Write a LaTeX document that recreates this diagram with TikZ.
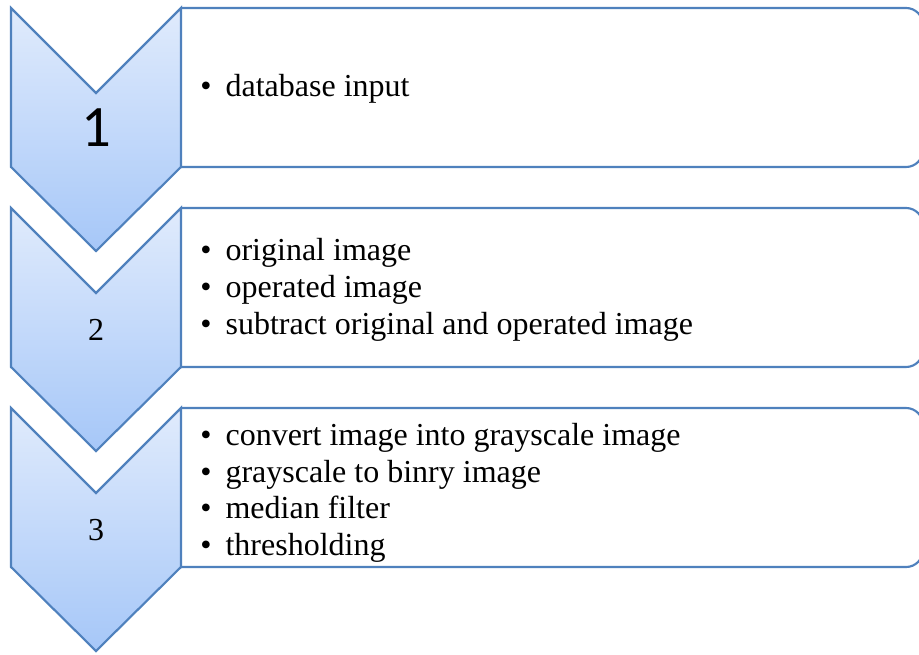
\documentclass[tikz,border=0pt]{standalone}
\usepackage{fontspec}
\setmainfont{Liberation Serif}
\newfontfamily\timesf{Liberation Serif}
\newfontfamily\calibri{Carlito}
\usepackage{xcolor}
\definecolor{stepblue}{RGB}{79,129,189}
\definecolor{steptop}{RGB}{224,235,252}
\definecolor{stepbot}{RGB}{166,199,248}
\usepackage{tikz}
\usetikzlibrary{positioning}
\newcommand{\itm}[1]{\makebox[19pt][l]{\textbullet}#1}

\begin{document}
\begin{tikzpicture}[
  x=0.75pt, y=0.75pt,
  chevron/.style={draw=stepblue, line width=1.6pt, line join=miter, top color=steptop, bottom color=stepbot},
  panel/.style={draw=stepblue, line width=1.6pt, fill=white},
  numtxt/.style={font=\timesf\fontsize{24}{24}\selectfont},
  items/.style={anchor=west, inner sep=0pt, align=left, font=\timesf\fontsize{24}{27.5}\selectfont}]

  \useasboundingbox (0,0) rectangle (919,-655);

  % --- step 1 ---
  \draw[panel] (181,-8) -- (906,-8) arc[start angle=90, end angle=0, radius=12.75pt]
    -- (923,-150) arc[start angle=0, end angle=-90, radius=12.75pt] -- (181,-167);
  \draw[chevron] (11,-8) -- (96,-93) -- (181,-8) -- (181,-167) -- (96,-251) -- (11,-167) -- cycle;
  \node[font=\calibri\fontsize{44}{44}\selectfont] (n1) at (96,-128) {1};
  \node[items] (t1) at (200,-88.5) {\itm{database input}};

  % --- step 2 ---
  \draw[panel] (181,-208) -- (906,-208) arc[start angle=90, end angle=0, radius=12.75pt]
    -- (923,-350) arc[start angle=0, end angle=-90, radius=12.75pt] -- (181,-367);
  \draw[chevron] (11,-208) -- (96,-293) -- (181,-208) -- (181,-367) -- (96,-451) -- (11,-367) -- cycle;
  \node[numtxt] (n2) at (96,-330) {2};
  \node[items] (t2) at (200,-290)
    {\itm{original image}\\\itm{operated image}\\\itm{subtract original and operated image}};

  % --- step 3 ---
  \draw[panel] (181,-408) -- (906,-408) arc[start angle=90, end angle=0, radius=12.75pt]
    -- (923,-550) arc[start angle=0, end angle=-90, radius=12.75pt] -- (181,-567);
  \draw[chevron] (11,-408) -- (96,-493) -- (181,-408) -- (181,-567) -- (96,-651) -- (11,-567) -- cycle;
  \node[numtxt] (n3) at (96,-530) {3};
  \node[items] (t3) at (200,-493)
    {\itm{convert image into grayscale image}\\\itm{grayscale to binry image}\\\itm{median filter}\\\itm{thresholding}};
\end{tikzpicture}
\end{document}
